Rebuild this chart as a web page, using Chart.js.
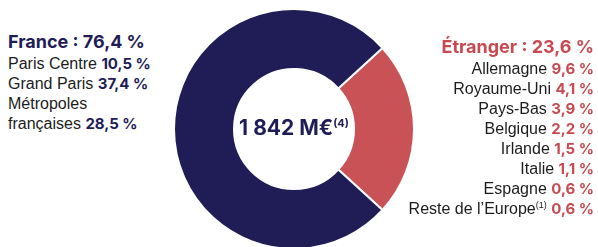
<!DOCTYPE html>
<html>
<head>
<meta charset="utf-8">
<script src="https://cdn.jsdelivr.net/npm/chart.js@4/dist/chart.umd.min.js"></script>
<style>
  html, body { margin: 0; padding: 0; background: #fff; width: 598px; height: 247px; overflow: hidden; }
  #wrap { position: absolute; left: 173px; top: 8px; width: 242px; height: 242px; }
  .blk { position: absolute; font-family: "Liberation Sans", Arial, sans-serif; font-size: 16px; line-height: 20px; color: #1c1c1c; white-space: nowrap; }
  .b { font-family: "Inter", "Liberation Sans", sans-serif; font-weight: 700; font-size: 15px; }
  .nv { color: #1f1c56; }
  .rd { color: #c84a50; }
  .head { font-size: 18px; line-height: 24px; }
  sup { font-size: 9px; line-height: 0; vertical-align: 6px; }
  #center { position: absolute; left: 194px; width: 200px; top: 114px; text-align: center; font-family: "Inter", sans-serif; font-weight: 700; font-size: 21px; line-height: 28px; color: #1f1c56; white-space: nowrap; }
  #center sup { font-size: 11px; vertical-align: 8px; }
</style>
</head>
<body>
<div id="wrap"><canvas id="c"></canvas></div>
<div id="left" class="blk" style="left:8px; top:30px;"></div>
<div id="right" class="blk" style="right:4px; top:35px; text-align:right;"></div>
<div id="center"></div>
<script>
// ---- data ----
const segments = ['Étranger', 'France'];
const segmentValues = [23.6, 76.4];
const totalLabel = '1 842 M€';
const totalNote = '(4)';

const franceLabels = ['Paris Centre', 'Grand Paris', 'Métropoles<br>françaises'];
const franceValues = [10.5, 37.4, 28.5];

const foreignLabels = ['Allemagne', 'Royaume-Uni', 'Pays-Bas', 'Belgique', 'Irlande', 'Italie', 'Espagne', 'Reste de l’Europe<sup>(1)</sup>'];
const foreignValues = [9.6, 4.1, 3.9, 2.2, 1.5, 1.1, 0.6, 0.6];

const colors = ['#c85256', '#1f1c56'];

const fmt = v => v.toFixed(1).replace('.', ',') + ' %';

// ---- text blocks ----
let lh = '<div class="head b nv">' + segments[1] + ' : ' + fmt(segmentValues[1]) + '</div>';
franceLabels.forEach((l, i) => { lh += '<div>' + l + ' <span class="b nv">' + fmt(franceValues[i]) + '</span></div>'; });
document.getElementById('left').innerHTML = lh;

let rh = '<div class="head b rd">' + segments[0] + ' : ' + fmt(segmentValues[0]) + '</div>';
foreignLabels.forEach((l, i) => { rh += '<div>' + l + ' <span class="b rd">' + fmt(foreignValues[i]) + '</span></div>'; });
document.getElementById('right').innerHTML = rh;

document.getElementById('center').innerHTML = totalLabel + '<sup>' + totalNote + '</sup>';

// ---- chart ----
const total = segmentValues.reduce((a, b) => a + b, 0);
new Chart(document.getElementById('c'), {
  type: 'doughnut',
  data: {
    labels: segments,
    datasets: [{
      data: segmentValues,
      backgroundColor: colors,
      borderColor: '#ffffff',
      borderWidth: 2,
      hoverOffset: 0
    }]
  },
  options: {
    responsive: true,
    maintainAspectRatio: false,
    animation: false,
    cutout: '50%',
    rotation: 90 - (segmentValues[0] / total) * 180,
    layout: { padding: 0 },
    plugins: { legend: { display: false }, tooltip: { enabled: false } }
  }
});
</script>
</body>
</html>
